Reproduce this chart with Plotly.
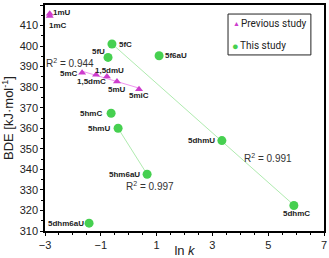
import numpy as np
import plotly.graph_objects as go

# ---- data ----
prev_names = ["1mU", "1mC", "5mC", "1,5dmC", "1,5dmU", "5mU", "5miC"]
prev_lnk = [-2.83, -2.83, -1.67, -1.17, -0.78, -0.42, 0.37]
prev_bde = [415.8, 414.6, 387.0, 386.0, 385.2, 382.8, 379.0]

this_names = ["5fC", "5fU", "5f6aU", "5hmC", "5hmU", "5hm6aU", "5dhm6aU", "5dhmU", "5dhmC"]
this_lnk = [-0.60, -0.74, 1.09, -0.63, -0.38, 0.66, -1.42, 3.34, 5.92]
this_bde = [401.0, 394.5, 395.3, 367.3, 360.0, 337.6, 313.8, 354.0, 322.4]

series_names = ["Previous study", "This study"]

# fit groups
fit_prev = ["5mC", "1,5dmC", "1,5dmU", "5mU", "5miC"]
fit_a = ["5fC", "5dhmU", "5dhmC"]
fit_b = ["5hmU", "5hm6aU"]
r2_text = ["R<sup>2</sup> = 0.944", "R<sup>2</sup> = 0.991", "R<sup>2</sup> = 0.997"]
r2_pos = [(-2.1, 392.0), (5.0, 345.5), (0.75, 332.0)]

x_ticks = [-3, -1, 1, 3, 5, 7]

PINK = "rgb(205,60,205)"
GREEN = "rgb(70,208,80)"
FONT = "Liberation Sans, Arial, sans-serif"
LFONT = "Roboto, Liberation Sans, sans-serif"

fig = go.Figure()

def fit_line(names_all, xs, ys, group, color):
    px = [xs[names_all.index(n)] for n in group]
    py = [ys[names_all.index(n)] for n in group]
    m, b = np.polyfit(px, py, 1)
    lx = np.array([min(px), max(px)])
    fig.add_trace(go.Scatter(x=lx, y=m * lx + b, mode="lines",
                             line=dict(color=color, width=1), showlegend=False,
                             hoverinfo="skip"))

fit_line(prev_names, prev_lnk, prev_bde, fit_prev, "rgb(240,150,240)")
fit_line(this_names, this_lnk, this_bde, fit_a, "rgb(175,235,175)")
fit_line(this_names, this_lnk, this_bde, fit_b, "rgb(175,235,175)")

fig.add_trace(go.Scatter(x=prev_lnk, y=prev_bde, mode="markers", name=series_names[0],
                         showlegend=False,
                         marker=dict(symbol="triangle-up", size=7, color=PINK)))
fig.add_trace(go.Scatter(x=this_lnk, y=this_bde, mode="markers", name=series_names[1],
                         showlegend=False,
                         marker=dict(symbol="circle", size=9, color=GREEN)))

# label centre offsets from the point, in pixels (dx right, dy up)
label_offset = {
    "1mU": (12, 1),
    "1mC": (8, -9),
    "5mC": (-13, -1),
    "1,5dmC": (-5, -7),
    "1,5dmU": (3, 6),
    "5mU": (0, -8),
    "5miC": (0, -6),
    "5fC": (14, 0),
    "5fU": (-10, 6),
    "5f6aU": (17, 0),
    "5hmC": (-20, 0),
    "5hmU": (-19, 0),
    "5hm6aU": (-23, 0),
    "5dhm6aU": (-23, 0),
    "5dhmU": (-20, 0),
    "5dhmC": (3, -8),
}

for names, xs, ys in [(prev_names, prev_lnk, prev_bde), (this_names, this_lnk, this_bde)]:
    for n, x, y in zip(names, xs, ys):
        dx, dy = label_offset[n]
        fig.add_annotation(x=x, y=y, text="<b>" + n + "</b>", showarrow=False,
                           xshift=dx, yshift=dy, xanchor="center", yanchor="middle",
                           font=dict(family=FONT, size=8, color="#222"))

for t, (x, y) in zip(r2_text, r2_pos):
    fig.add_annotation(x=x, y=y, text=t, showarrow=False,
                       font=dict(family=FONT, size=10, color="#333"))

# custom legend box
fig.add_shape(type="rect", xref="paper", yref="paper", x0=0.656, x1=0.953,
              y0=0.779, y1=0.960, line=dict(color="#222", width=1),
              fillcolor="white", layer="above")
legend_rows = [(0.916, 0.685, "▲", PINK, 7, 0.819), (0.820, 0.682, "●", GREEN, 11, 0.783)]
for (ly, sx, sym, col, ssize, tx), name in zip(legend_rows, series_names):
    fig.add_annotation(xref="paper", yref="paper", x=sx, y=ly, text=sym,
                       showarrow=False, xanchor="center", yanchor="middle",
                       font=dict(size=ssize, color=col))
    fig.add_annotation(xref="paper", yref="paper", x=tx, y=ly, text=name,
                       showarrow=False, xanchor="center", yanchor="middle",
                       font=dict(family=LFONT, size=10, color="#222"))

axis_common = dict(showline=True, linecolor="black", linewidth=1.5, mirror=True,
                   ticks="outside", ticklen=3, tickwidth=1, tickcolor="black",
                   showgrid=False, zeroline=False, automargin=False,
                   tickfont=dict(family=FONT, size=11, color="#222"))

fig.update_xaxes(range=[-3, 7], tickvals=x_ticks,
                 minor=dict(dtick=0.5, ticks="outside", ticklen=2, tickcolor="black"),
                 title=dict(text="ln <i>k</i>", font=dict(family=FONT, size=13, color="#222"),
                            standoff=0),
                 **axis_common)
fig.update_yaxes(range=[310, 420], dtick=10,
                 minor=dict(dtick=5, ticks="outside", ticklen=2, tickcolor="black"),
                 title=dict(text="BDE [kJ·mol<sup>-1</sup>]",
                            font=dict(family=FONT, size=13, color="#222"), standoff=5),
                 **axis_common)

fig.update_layout(
    width=329, height=258,
    margin=dict(l=45, r=5, t=5, b=27),
    plot_bgcolor="white", paper_bgcolor="white",
    showlegend=False,
)

fig.write_html("out.html")
